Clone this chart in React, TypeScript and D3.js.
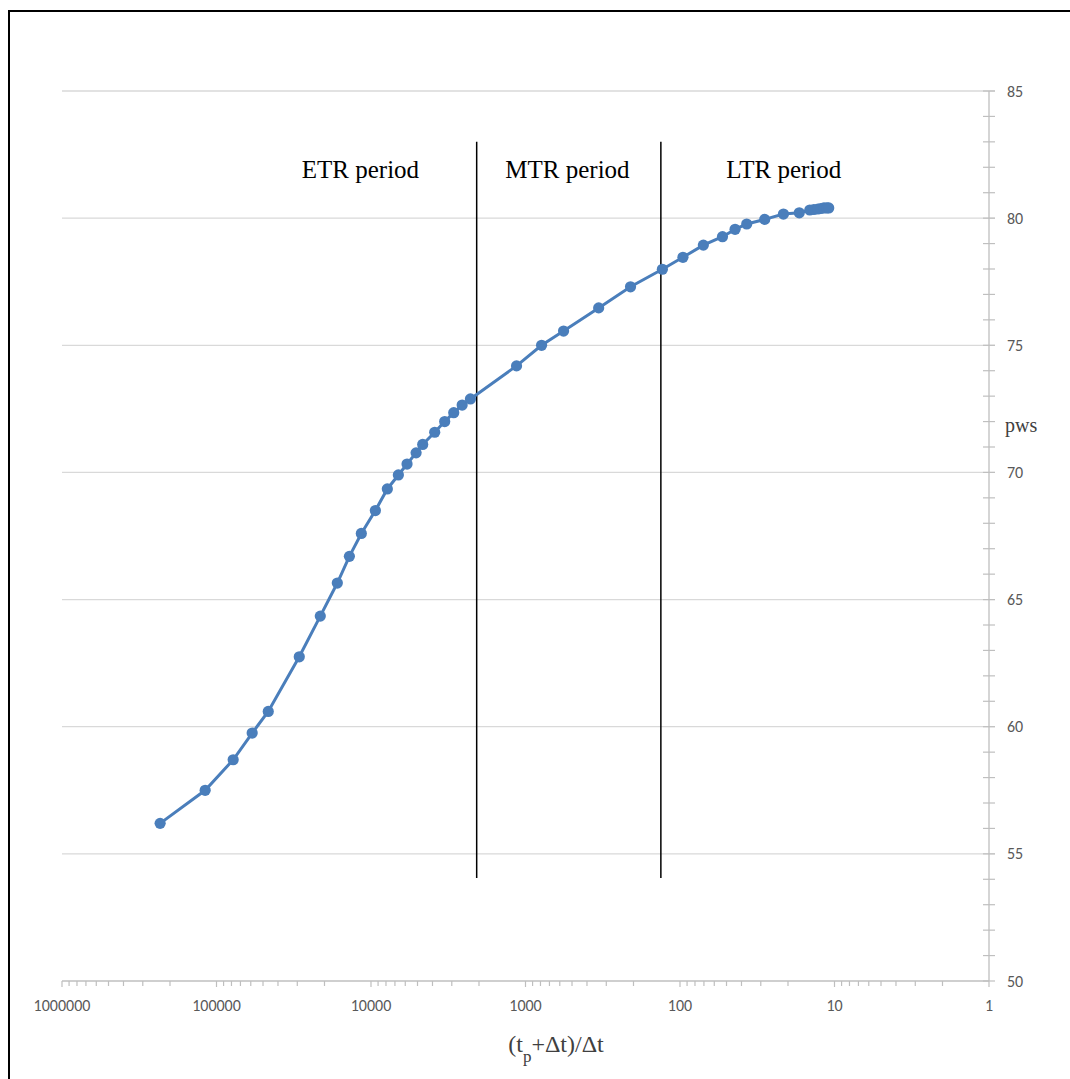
import React from "react";
import * as d3 from "d3";

const ratio = [231700, 118400, 78000, 58750, 46250, 29130, 21290, 16520, 13800, 11550, 9370, 7840, 6650, 5843, 5107, 4628, 3869, 3334, 2914, 2570, 2272, 1143, 787, 567, 336, 209, 130, 95.7, 70.6, 53.1, 44.0, 37.0, 28.3, 21.4, 16.9, 14.45, 13.6, 12.8, 12.25, 11.7, 11.2, 10.9];
const pws = [56.2, 57.5, 58.7, 59.75, 60.6, 62.75, 64.35, 65.65, 66.7, 67.6, 68.5, 69.35, 69.9, 70.33, 70.77, 71.1, 71.58, 72.0, 72.35, 72.65, 72.89, 74.19, 75.0, 75.56, 76.47, 77.3, 77.99, 78.46, 78.94, 79.27, 79.56, 79.77, 79.95, 80.16, 80.21, 80.32, 80.34, 80.36, 80.38, 80.4, 80.4, 80.4];

const xTicks = [1000000, 100000, 10000, 1000, 100, 10, 1];
const xTickLabels = ["1000000", "100000", "10000", "1000", "100", "10", "1"];
const yTicks = [50, 55, 60, 65, 70, 75, 80, 85];
const periodLabels = ["ETR period", "MTR period", "LTR period"];
const periodLabelX = [11700, 535, 21.3];
const dividerX = [2070, 133];
const dividerY = [83.0, 54.05];

const W = 1070, H = 1079;
const left = 62, right = 989, top = 91, bottom = 981;

export default function App() {
  const x = d3.scaleLog().domain([1e6, 1]).range([left, right]);
  const y = d3.scaleLinear().domain([50, 85]).range([bottom, top]);
  const data = ratio.map((r, i) => ({ r, p: pws[i] }));
  const line = d3.line<{ r: number; p: number }>().x(d => x(d.r)).y(d => y(d.p));
  const minorX: number[] = [];
  for (let d = 1; d < 1e6; d *= 10) for (let k = 2; k <= 9; k++) minorX.push(d * k);
  const minorY = d3.range(50, 85.01, 1);
  const blue = "#4a7ebb";
  const axisColor = "#bfbfbf";
  const tickFont = "Carlito, 'Liberation Sans Narrow', 'Liberation Sans', sans-serif";
  const serif = "'Liberation Serif', 'Times New Roman', serif";
  return (
    <svg width={W} height={H} style={{ position: "absolute", left: 0, top: 0, background: "#fff" }}>
      <rect x={0} y={0} width={W} height={H} fill="#fff" />
      <line x1={9} y1={11} x2={9} y2={H} stroke="#000" strokeWidth={2} />
      <line x1={8} y1={11} x2={W} y2={11} stroke="#000" strokeWidth={2} />
      {yTicks.filter(t => t > 50).map(t => (
        <line key={"g" + t} x1={left} x2={right + 6} y1={y(t)} y2={y(t)} stroke="#d9d9d9" strokeWidth={1.3} />
      ))}
      <line x1={left} x2={right} y1={bottom} y2={bottom} stroke={axisColor} strokeWidth={1.3} />
      <line x1={right} x2={right} y1={top} y2={bottom} stroke={axisColor} strokeWidth={1.3} />
      {minorY.map(t => (
        <line key={"my" + t} x1={right - 6} x2={right + 6} y1={y(t)} y2={y(t)} stroke={axisColor} strokeWidth={1.2} />
      ))}
      {minorX.map(t => (
        <line key={"mx" + t} x1={x(t)} x2={x(t)} y1={bottom} y2={bottom + 5} stroke={axisColor} strokeWidth={1.2} />
      ))}
      {xTicks.map(t => (
        <line key={"tx" + t} x1={x(t)} x2={x(t)} y1={bottom} y2={bottom + 6} stroke={axisColor} strokeWidth={1.2} />
      ))}
      {yTicks.map(t => (
        <text key={"yl" + t} x={1007} y={y(t)} dy="0.35em" fontFamily={tickFont} fontSize={16} fill="#595959">{t}</text>
      ))}
      {xTicks.map((t, i) => (
        <text key={"xl" + t} x={x(t)} y={1005} dy="0.35em" textAnchor="middle" fontFamily={tickFont} fontSize={16} fill="#595959">{xTickLabels[i]}</text>
      ))}
      <text x={1005} y={425} dy="0.35em" fontFamily={serif} fontSize={20} fill="#404040">pws</text>
      <text x={556} y={1052} textAnchor="middle" fontFamily={serif} fontSize={24} fill="#404040">
        (t<tspan baselineShift="sub" fontSize={17}>p</tspan>+Δt)/Δt
      </text>
      {dividerX.map(v => (
        <line key={"d" + v} x1={x(v)} x2={x(v)} y1={y(dividerY[0])} y2={y(dividerY[1])} stroke="#000" strokeWidth={1.5} />
      ))}
      {periodLabels.map((s, i) => (
        <text key={s} x={x(periodLabelX[i])} y={178} textAnchor="middle" fontFamily={serif} fontSize={25} fill="#000">{s}</text>
      ))}
      <path d={line(data) || ""} fill="none" stroke={blue} strokeWidth={3} />
      {data.map((d, i) => (
        <circle key={i} cx={x(d.r)} cy={y(d.p)} r={5.6} fill={blue} />
      ))}
    </svg>
  );
}
